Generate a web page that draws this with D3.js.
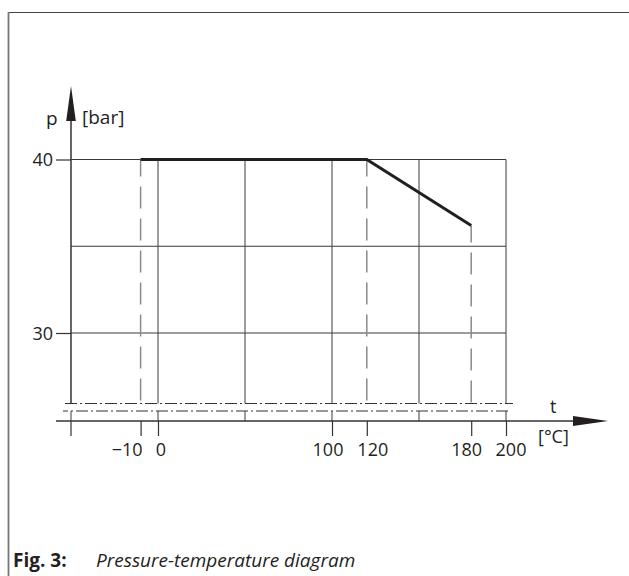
<!DOCTYPE html>
<html>
<head>
<meta charset="utf-8">
<script src="https://cdn.jsdelivr.net/npm/d3@7"></script>
<style>
  body { margin: 0; background: #fff; }
  text { font-family: "Open Sans", Lato, sans-serif; fill: #231f20; }
</style>
</head>
<body>
<svg width="629" height="576"></svg>
<script>
// pressure-temperature data
const tempTicks = [-10, 0, 100, 120, 180, 200];
const gridTemps = [0, 50, 100, 150, 200];
const pressTicks = [30, 40];
const gridPress = [30, 35, 40];
const curveTemp = [-10, 120, 180];
const curvePress = [40, 40, 36.2];
const dashedTemps = [-10, 120, 180];

const svg = d3.select('svg');
const width = +svg.attr("width");
const height = +svg.attr("height");

// axis break lines sit below the 30 bar line
const breakTop = 403.5, breakBottom = 411, axisY = 421;

const x = d3.scaleLinear().domain([0, 200]).range([158, 506]);
const y = d3.scaleLinear().domain([30, 40]).range([333, 159.5]);
const xMin = -50; // where the p axis stands

const ink = "#231f20";
const font = '"Open Sans", sans-serif';

// frame
svg.append("line").attr("x1", 8).attr("x2", width).attr("y1", 12.5).attr("y2", 12.5)
  .attr("stroke", "#444").attr("stroke-width", 1.2);
svg.append("line").attr("x1", 8.5).attr("x2", 8.5).attr("y1", 12).attr("y2", height)
  .attr("stroke", "#777").attr("stroke-width", 1.8);

const g = svg.append("g");

// horizontal grid
g.selectAll(".hgrid").data(gridPress).enter().append("line")
  .attr("x1", x(xMin)).attr("x2", x(200))
  .attr("y1", d => y(d)).attr("y2", d => y(d))
  .attr("stroke", "#3a3a3a").attr("stroke-width", 1);

// vertical grid
g.selectAll(".vgrid").data(gridTemps).enter().append("line")
  .attr("x1", d => x(d)).attr("x2", d => x(d))
  .attr("y1", y(40)).attr("y2", breakTop)
  .attr("stroke", "#3a3a3a").attr("stroke-width", 1);

// short pieces between lower break line and axis
g.selectAll(".stub").data([xMin].concat(gridTemps)).enter().append("line")
  .attr("x1", d => x(d)).attr("x2", d => x(d))
  .attr("y1", breakBottom).attr("y2", axisY)
  .attr("stroke", "#3a3a3a").attr("stroke-width", 1);

// dashed verticals under the curve corners
g.selectAll(".dash").data(dashedTemps).enter().append("line")
  .attr("x1", d => x(d)).attr("x2", d => x(d))
  .attr("y1", d => y(curvePress[curveTemp.indexOf(d)]))
  .attr("y2", breakTop)
  .attr("stroke", "#8a8a8a").attr("stroke-width", 1.5)
  .attr("stroke-dasharray", "22,10").attr("stroke-dashoffset", 5);

// axis break (dash-dot)
g.append("line").attr("x1", 65).attr("x2", 513).attr("y1", breakTop).attr("y2", breakTop)
  .attr("stroke", "#333").attr("stroke-width", 1).attr("stroke-dasharray", "12,3,2,3");
g.append("line").attr("x1", 63).attr("x2", 511).attr("y1", breakBottom).attr("y2", breakBottom)
  .attr("stroke", "#333").attr("stroke-width", 1).attr("stroke-dasharray", "12,3,2,3")
  .attr("stroke-dashoffset", 7);

// x axis
const xAxis = d3.axisBottom(x).tickValues(tempTicks).tickSize(15)
  .tickFormat(d => d < 0 ? "\u2212" + Math.abs(d) : d);
const gx = g.append("g").attr("transform", `translate(0,${axisY})`).call(xAxis);
gx.select(".domain").remove();
gx.selectAll(".tick line").attr("stroke", "#333").attr("stroke-width", 1.2);
const nudge = { "-10": -14, "0": 2.5, "100": -4.5, "120": 5.5, "180": -5, "200": 4.5 };
gx.selectAll(".tick text")
  .attr("y", 35).attr("dy", 0)
  .attr("dx", d => nudge[d])
  .attr("font-size", 18).attr("fill", ink)
  .style("font-family", font);
// y-axis foot
g.append("line").attr("x1", x(xMin)).attr("x2", x(xMin)).attr("y1", axisY).attr("y2", axisY + 15)
  .attr("stroke", "#333").attr("stroke-width", 1.2);

g.append("line").attr("x1", 56).attr("x2", 574).attr("y1", axisY).attr("y2", axisY)
  .attr("stroke", "#333").attr("stroke-width", 1.5);
g.append("path").attr("d", `M573,${axisY - 5}L608,${axisY}L573,${axisY + 5}Z`).attr("fill", ink);

// y axis
const yAxis = d3.axisLeft(y).tickValues(pressTicks).tickSize(15).tickPadding(3);
const gy = g.append("g").attr("transform", `translate(${x(xMin)},0)`).call(yAxis);
gy.select(".domain").remove();
gy.selectAll(".tick line").attr("stroke", "#333").attr("stroke-width", 1.2);
gy.selectAll(".tick text").attr("font-size", 18).attr("fill", ink).attr("dy", "0.36em")
  .style("font-family", font);

const ax = x(xMin);
g.append("line").attr("x1", ax).attr("x2", ax).attr("y1", 120).attr("y2", breakTop)
  .attr("stroke", "#333").attr("stroke-width", 1.5);
g.append("path").attr("d", `M${ax},86L${ax + 4.8},121L${ax - 4.8},121Z`).attr("fill", ink);

// curve
const line = d3.line().x(d => x(d[0])).y(d => y(d[1]));
g.append("path").datum(curveTemp.map((t, i) => [t, curvePress[i]]))
  .attr("d", line).attr("fill", "none").attr("stroke", ink).attr("stroke-width", 3);

// axis titles
g.append("text").attr("x", 46).attr("y", 125).attr("font-size", 19).text("p");
g.append("text").attr("x", 82).attr("y", 124).attr("font-size", 19).text("[bar]");
g.append("text").attr("x", 550).attr("y", 413).attr("font-size", 18).text("t");
g.append("text").attr("x", 538).attr("y", 443).attr("font-size", 18).text("[°C]");

// caption
const cap = svg.append("text").attr("x", 13).attr("y", 567).attr("font-size", 19);
cap.append("tspan").attr("font-weight", "bold").text("Fig. 3:");
cap.append("tspan").attr("x", 96).attr("font-style", "italic").text("Pressure-temperature diagram");
</script>
</body>
</html>
